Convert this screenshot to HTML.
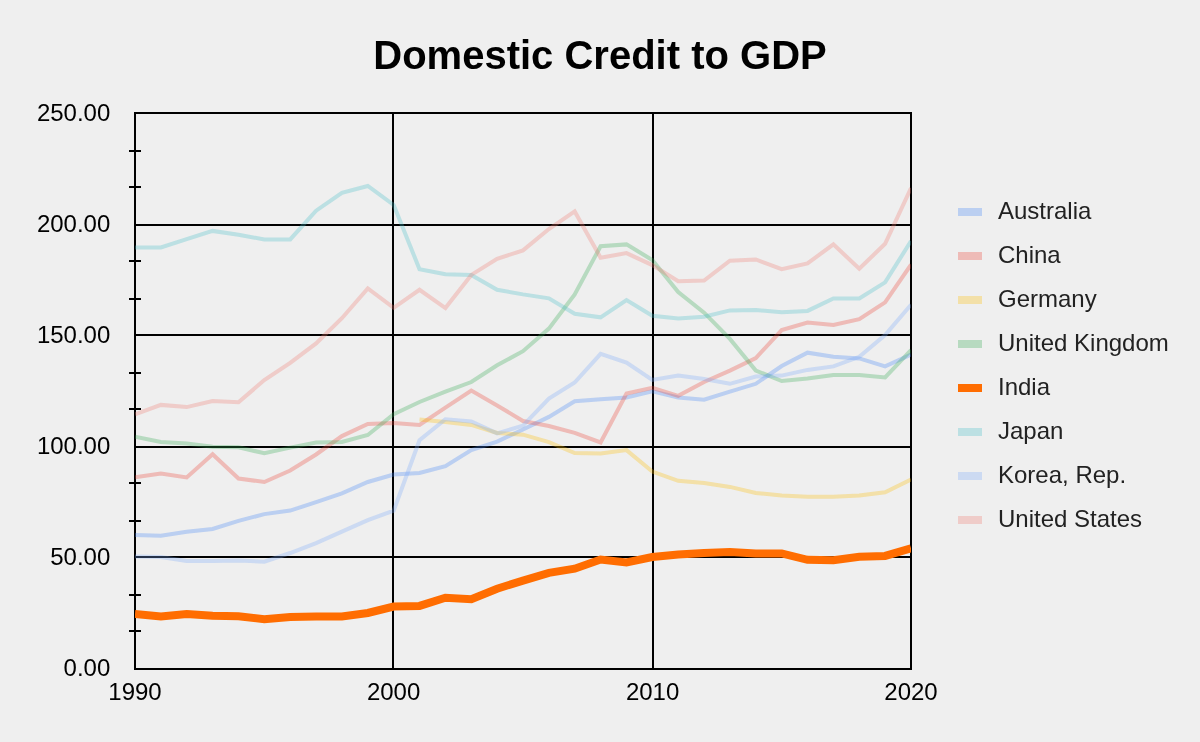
<!DOCTYPE html>
<html><head><meta charset="utf-8"><title>Domestic Credit to GDP</title>
<style>
html,body{margin:0;padding:0;background:#EFEFEF;}
body{width:1200px;height:742px;overflow:hidden;}
svg{display:block;font-family:"Liberation Sans",Arial,sans-serif;}
</style></head><body>
<svg width="1200" height="742" viewBox="0 0 1200 742">
<rect x="0" y="0" width="1200" height="742" fill="#EFEFEF"/>
<text x="600" y="69" text-anchor="middle" font-size="40" font-weight="bold" fill="#000">Domestic Credit to GDP</text>
<g fill="#000"><rect x="134" y="112" width="778" height="2"/><rect x="134" y="224" width="778" height="2"/><rect x="134" y="334" width="778" height="2"/><rect x="134" y="446" width="778" height="2"/><rect x="134" y="556" width="778" height="2"/><rect x="134" y="668" width="778" height="2"/><rect x="134" y="112" width="2" height="558"/><rect x="392" y="112" width="2" height="558"/><rect x="652" y="112" width="2" height="558"/><rect x="910" y="112" width="2" height="558"/><rect x="129" y="150" width="12" height="2"/><rect x="129" y="186" width="12" height="2"/><rect x="129" y="260" width="12" height="2"/><rect x="129" y="298" width="12" height="2"/><rect x="129" y="372" width="12" height="2"/><rect x="129" y="408" width="12" height="2"/><rect x="129" y="482" width="12" height="2"/><rect x="129" y="520" width="12" height="2"/><rect x="129" y="594" width="12" height="2"/><rect x="129" y="630" width="12" height="2"/></g>
<text x="110.3" y="120.5" text-anchor="end" font-size="24" fill="#000">250.00</text>
<text x="110.3" y="231.5" text-anchor="end" font-size="24" fill="#000">200.00</text>
<text x="110.3" y="342.5" text-anchor="end" font-size="24" fill="#000">150.00</text>
<text x="110.3" y="453.5" text-anchor="end" font-size="24" fill="#000">100.00</text>
<text x="110.3" y="564.5" text-anchor="end" font-size="24" fill="#000">50.00</text>
<text x="110.3" y="675.5" text-anchor="end" font-size="24" fill="#000">0.00</text>
<text x="135.0" y="700" text-anchor="middle" font-size="24" fill="#000">1990</text>
<text x="393.6" y="700" text-anchor="middle" font-size="24" fill="#000">2000</text>
<text x="652.6" y="700" text-anchor="middle" font-size="24" fill="#000">2010</text>
<text x="911.0" y="700" text-anchor="middle" font-size="24" fill="#000">2020</text>
<defs><clipPath id="pc"><rect x="135" y="100" width="776" height="580"/></clipPath></defs>
<g clip-path="url(#pc)">
<polyline fill="none" stroke="#4285F4" stroke-opacity="0.3" stroke-width="4" stroke-linejoin="miter" points="135.0,535.1 160.9,535.8 186.7,531.7 212.6,529.0 238.5,520.9 264.3,514.1 290.2,510.6 316.1,502.1 341.9,493.4 367.8,482.0 393.7,474.5 419.5,473.0 445.4,466.1 471.3,450.1 497.1,441.6 523.0,429.5 548.9,416.9 574.7,401.3 600.6,399.2 626.5,397.4 652.3,391.4 678.2,397.4 704.1,399.7 729.9,391.7 755.8,383.8 781.7,366.0 807.5,352.7 833.4,356.8 859.3,358.4 885.1,366.4 911.0,354.5"/>
<polyline fill="none" stroke="#EA4335" stroke-opacity="0.3" stroke-width="4" stroke-linejoin="miter" points="135.0,477.3 160.9,473.5 186.7,477.4 212.6,454.3 238.5,478.5 264.3,482.0 290.2,470.5 316.1,454.5 341.9,436.1 367.8,424.0 393.7,423.0 419.5,424.9 445.4,407.7 471.3,390.5 497.1,405.4 523.0,421.0 548.9,426.0 574.7,432.9 600.6,442.5 626.5,393.5 652.3,387.9 678.2,395.8 704.1,382.0 729.9,370.6 755.8,358.0 781.7,330.1 807.5,322.6 833.4,325.0 859.3,319.1 885.1,302.4 911.0,264.6"/>
<polyline fill="none" stroke="#FBBC04" stroke-opacity="0.3" stroke-width="4" stroke-linejoin="miter" points="419.5,419.6 445.4,422.1 471.3,424.9 497.1,432.9 523.0,434.7 548.9,442.1 574.7,453.1 600.6,453.5 626.5,450.1 652.3,471.6 678.2,480.8 704.1,483.1 729.9,486.9 755.8,492.9 781.7,495.6 807.5,496.8 833.4,496.8 859.3,495.6 885.1,492.2 911.0,479.6"/>
<polyline fill="none" stroke="#34A853" stroke-opacity="0.3" stroke-width="4" stroke-linejoin="miter" points="135.0,436.8 160.9,441.9 186.7,443.5 212.6,446.8 238.5,447.2 264.3,453.3 290.2,447.6 316.1,442.5 341.9,441.9 367.8,435.0 393.7,414.1 419.5,402.0 445.4,391.7 471.3,382.0 497.1,365.3 523.0,351.2 548.9,328.6 574.7,294.4 600.6,246.2 626.5,244.4 652.3,260.0 678.2,292.1 704.1,312.7 729.9,338.9 755.8,370.5 781.7,381.0 807.5,378.5 833.4,375.1 859.3,374.9 885.1,377.4 911.0,350.0"/>
<polyline fill="none" stroke="#FF6D01" stroke-opacity="1.0" stroke-width="8" stroke-linejoin="miter" points="135.0,614.1 160.9,616.4 186.7,614.1 212.6,615.7 238.5,616.2 264.3,619.2 290.2,616.9 316.1,616.4 341.9,616.4 367.8,613.0 393.7,606.6 419.5,605.9 445.4,597.8 471.3,599.2 497.1,588.7 523.0,580.6 548.9,572.9 574.7,568.7 600.6,559.6 626.5,562.5 652.3,557.0 678.2,554.5 704.1,552.9 729.9,552.0 755.8,553.4 781.7,553.4 807.5,559.8 833.4,560.2 859.3,556.8 885.1,555.9 911.0,548.3"/>
<polyline fill="none" stroke="#46BDC6" stroke-opacity="0.3" stroke-width="4" stroke-linejoin="miter" points="135.0,247.4 160.9,247.4 186.7,239.1 212.6,230.9 238.5,234.8 264.3,239.4 290.2,239.4 316.1,210.7 341.9,192.8 367.8,186.0 393.7,205.0 419.5,269.2 445.4,274.2 471.3,274.9 497.1,289.8 523.0,294.4 548.9,298.3 574.7,313.8 600.6,317.3 626.5,300.1 652.3,315.8 678.2,318.4 704.1,316.8 729.9,310.4 755.8,310.0 781.7,312.2 807.5,310.9 833.4,298.5 859.3,298.5 885.1,282.4 911.0,241.0"/>
<polyline fill="none" stroke="#7BAAF7" stroke-opacity="0.3" stroke-width="4" stroke-linejoin="miter" points="135.0,556.5 160.9,557.1 186.7,561.0 212.6,561.0 238.5,560.4 264.3,561.7 290.2,553.0 316.1,543.2 341.9,531.7 367.8,520.2 393.7,510.6 419.5,440.2 445.4,419.2 471.3,421.4 497.1,433.4 523.0,425.6 548.9,398.5 574.7,382.5 600.6,353.9 626.5,362.5 652.3,380.0 678.2,375.6 704.1,379.0 729.9,383.8 755.8,376.5 781.7,375.6 807.5,369.9 833.4,366.4 859.3,356.8 885.1,335.0 911.0,304.7"/>
<polyline fill="none" stroke="#F07B72" stroke-opacity="0.3" stroke-width="4" stroke-linejoin="miter" points="135.0,414.3 160.9,404.9 186.7,407.1 212.6,401.0 238.5,402.3 264.3,380.1 290.2,362.9 316.1,343.4 341.9,318.2 367.8,288.4 393.7,307.8 419.5,289.8 445.4,308.1 471.3,274.9 497.1,258.8 523.0,250.4 548.9,229.0 574.7,211.4 600.6,257.7 626.5,253.1 652.3,265.1 678.2,281.3 704.1,280.6 729.9,260.7 755.8,259.5 781.7,269.2 807.5,263.4 833.4,244.4 859.3,268.7 885.1,243.8 911.0,188.0"/>
</g>
<rect x="958" y="208" width="24" height="8" fill="#4285F4" fill-opacity="0.3"/>
<text x="998" y="218.8" font-size="24" fill="#222">Australia</text>
<rect x="958" y="252" width="24" height="8" fill="#EA4335" fill-opacity="0.3"/>
<text x="998" y="262.8" font-size="24" fill="#222">China</text>
<rect x="958" y="296" width="24" height="8" fill="#FBBC04" fill-opacity="0.3"/>
<text x="998" y="306.8" font-size="24" fill="#222">Germany</text>
<rect x="958" y="340" width="24" height="8" fill="#34A853" fill-opacity="0.3"/>
<text x="998" y="350.8" font-size="24" fill="#222">United Kingdom</text>
<rect x="958" y="384" width="24" height="8" fill="#FF6D01" fill-opacity="1.0"/>
<text x="998" y="394.8" font-size="24" fill="#222">India</text>
<rect x="958" y="428" width="24" height="8" fill="#46BDC6" fill-opacity="0.3"/>
<text x="998" y="438.8" font-size="24" fill="#222">Japan</text>
<rect x="958" y="472" width="24" height="8" fill="#7BAAF7" fill-opacity="0.3"/>
<text x="998" y="482.8" font-size="24" fill="#222">Korea, Rep.</text>
<rect x="958" y="516" width="24" height="8" fill="#F07B72" fill-opacity="0.3"/>
<text x="998" y="526.8" font-size="24" fill="#222">United States</text>
</svg>
</body></html>
